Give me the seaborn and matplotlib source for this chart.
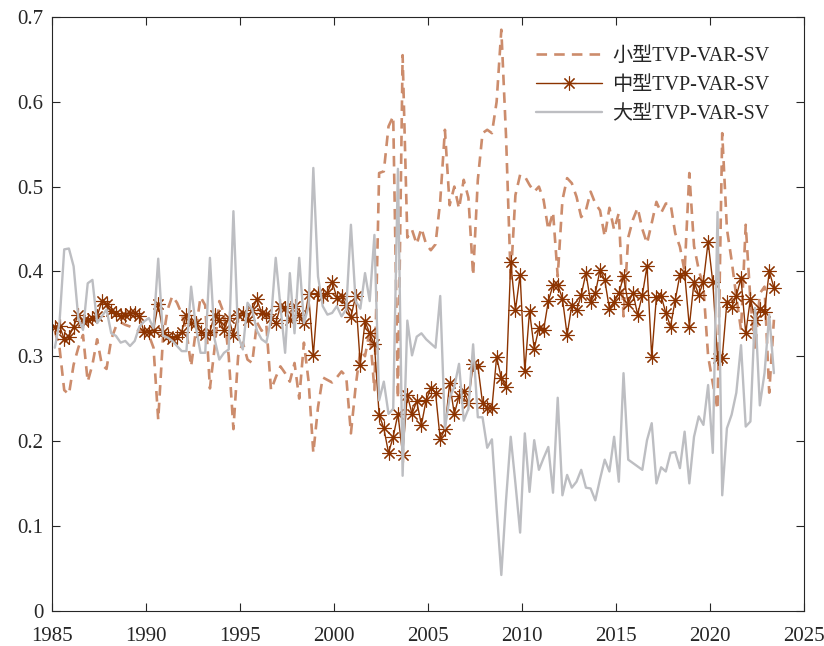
import numpy as np
import pandas as pd
import matplotlib
matplotlib.use("Agg")
import matplotlib.pyplot as plt
import seaborn as sns

# quarterly series, 1985 Q1 .. 2023 Q2
small = [
    .330, .310, .260, .255, .290, .310, .325, .270, .290, .320,
    .290, .285, .320, .335, .340, .337, .335, .332, .330, .330,
    .325, .310, .225, .320, .355, .371, .363, .350, .330, .288,
    .330, .370, .360, .262, .310, .365, .350, .300, .214, .300,
    .316, .296, .292, .340, .330, .337, .260, .275, .288, .280,
    .270, .292, .250, .316, .270, .186, .240, .275, .272, .269,
    .275, .282, .276, .209, .264, .307, .300, .330, .260, .516,
    .518, .571, .583, .250, .655, .440, .449, .432, .451, .432,
    .425, .432, .483, .567, .478, .500, .474, .508, .487, .395,
    .508, .563, .567, .563, .600, .685, .560, .390, .490, .514,
    .512, .502, .494, .500, .484, .449, .470, .394, .484, .510,
    .504, .488, .464, .472, .494, .480, .472, .441, .475, .449,
    .469, .347, .440, .461, .475, .450, .433, .457, .482, .469,
    .480, .480, .445, .429, .400, .516, .430, .402, .382, .300,
    .268, .237, .563, .450, .413, .370, .331, .455, .366, .307,
    .374, .382, .257, .343,
]
medium = [
    .335, .336, .320, .323, .335, .349, .341, .343, .345, .347,
    .365, .361, .353, .351, .347, .349, .351, .351, .347, .328,
    .329, .331, .361, .329, .324, .320, .323, .329, .349, .339,
    .339, .329, .325, .329, .349, .343, .331, .345, .325, .349,
    .351, .343, .355, .367, .351, .350, .345, .339, .359, .357,
    .343, .359, .349, .339, .373, .301, .374, .371, .375, .388,
    .369, .371, .360, .346, .371, .290, .341, .327, .314, .231,
    .215, .186, .205, .232, .184, .254, .232, .247, .219, .248,
    .262, .257, .202, .214, .268, .232, .253, .259, .245, .291,
    .289, .245, .239, .239, .299, .274, .264, .411, .354, .396,
    .282, .353, .309, .333, .331, .365, .384, .384, .368, .325,
    .360, .354, .372, .398, .364, .374, .402, .390, .356, .364,
    .374, .394, .362, .375, .349, .372, .406, .299, .370, .371,
    .351, .335, .366, .396, .398, .335, .388, .372, .388, .435,
    .387, .298, .298, .364, .358, .371, .392, .327, .368, .343,
    .356, .352, .400, .381,
]
large = [
    .310, .340, .426, .427, .406, .345, .331, .386, .390, .339,
    .347, .355, .327, .324, .316, .318, .312, .318, .335, .341,
    .345, .333, .415, .324, .322, .318, .312, .306, .306, .382,
    .335, .304, .304, .416, .320, .296, .304, .308, .471, .324,
    .308, .363, .355, .330, .320, .316, .343, .416, .359, .304,
    .398, .327, .416, .339, .359, .522, .394, .359, .349, .351,
    .359, .347, .355, .455, .365, .356, .398, .365, .443, .248,
    .270, .232, .238, .521, .159, .342, .301, .323, .327, .320,
    .315, .310, .371, .215, .251, .264, .291, .224, .238, .314,
    .228, .228, .192, .202, .120, .042, .130, .205, .150, .092,
    .209, .140, .201, .166, .180, .193, .139, .251, .136, .160,
    .145, .152, .166, .145, .144, .130, .155, .178, .164, .205,
    .152, .280, .178, .174, .170, .166, .201, .221, .150, .169,
    .164, .186, .187, .168, .211, .150, .205, .229, .219, .266,
    .186, .470, .136, .215, .231, .257, .313, .217, .223, .357,
    .242, .280, .349, .280,
]
labels = ["小型TVP-VAR-SV", "中型TVP-VAR-SV", "大型TVP-VAR-SV"]

dates = 1985.15 + 0.25 * np.arange(len(medium))
df = pd.DataFrame({"t": dates, "small": small, "medium": medium, "large": large})

sns.set_theme(style="ticks")
plt.rcParams["font.family"] = ["Liberation Serif", "Noto Sans CJK SC"]

fig = plt.figure(figsize=(8.24, 6.46), dpi=100)
ax = fig.add_axes([52 / 824, 35.4 / 646, 752 / 824, 593.6 / 646])

sns.lineplot(data=df, x="t", y="small", ax=ax, color="#CC8C6C",
             linewidth=1.9, linestyle=(0, (4, 2.7)), label=labels[0])
# asterisk markers: plain matplotlib call, seaborn mangles the tuple marker
ax.plot(df["t"], df["medium"], color="#8C3300", linewidth=1.0,
        marker=(8, 2, 0), markersize=10, markeredgewidth=0.8,
        label=labels[1])
sns.lineplot(data=df, x="t", y="large", ax=ax, color="#BDBEC2",
             linewidth=1.7, label=labels[2])

ax.set_xlim(1985, 2025)
ax.set_ylim(0, 0.7)
ax.set_xticks(range(1985, 2026, 5))
ax.set_yticks(np.arange(0, 0.71, 0.1))
ax.set_yticklabels(["0"] + [f"{v:.1f}" for v in np.arange(0.1, 0.71, 0.1)])
ax.set_xlabel("")
ax.set_ylabel("")
ax.tick_params(direction="in", length=5.5, width=0.8, top=True, right=True,
               labelsize=15, colors="#262626", pad=6)
ax.tick_params(axis="x", pad=12)
for s in ax.spines.values():
    s.set_linewidth(0.8)
    s.set_color("#262626")

ax.legend(loc="upper right", bbox_to_anchor=(0.978, 0.98), frameon=False,
          fontsize=14.5, handlelength=3.3, handletextpad=0.5,
          labelspacing=0.5)

fig.savefig("out.png", dpi=100)
